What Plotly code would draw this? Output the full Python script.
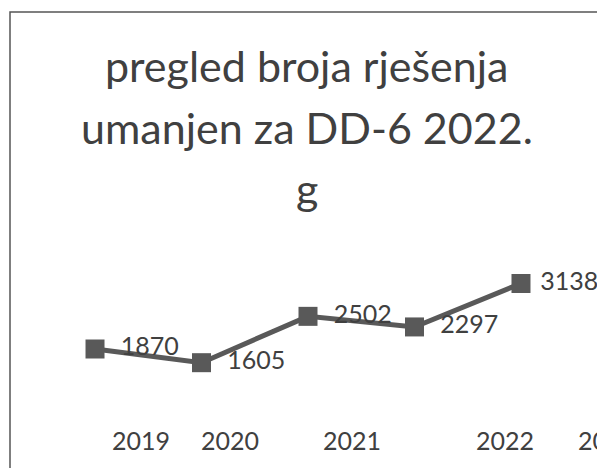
import plotly.graph_objects as go

# ---- data ----
point_x = [0, 1, 2, 3, 4]
values = [1870, 1605, 2502, 2297, 3138]
tick_labels = ["2019", "2020", "2021", "2022", "20"]
tick_pos = [0.432, 1.268, 2.413, 3.85, 4.672]
title_lines = ["pregled broja rješenja", "umanjen za DD-6 2022.", "g"]

W, H = 605, 468
B = 52
plot_h = H - B

label_pad = ["\u00a0\u00a0"] * (len(values) - 1) + ["\u00a0"]

fig = go.Figure()
fig.add_trace(go.Scatter(
    x=point_x, y=values,
    mode="lines+markers+text",
    text=[p + str(v) for p, v in zip(label_pad, values)],
    textposition="middle right",
    textfont=dict(family="Lato", size=25, color="#404040"),
    line=dict(color="#595959", width=5),
    marker=dict(symbol="square", size=19, color="#595959"),
    cliponaxis=False,
    showlegend=False,
    hoverinfo="skip",
))

# title lines, centres in figure pixels
title_centres = [58, 119, 180]
annotations = [
    dict(text=t, xref="paper", yref="paper", x=0.494, y=1 - c / plot_h,
         xanchor="center", yanchor="middle", showarrow=False,
         font=dict(family="Lato", size=43, color="#404040"))
    for t, c in zip(title_lines, title_centres)
]

fig.update_layout(
    width=W, height=H,
    margin=dict(l=0, r=0, t=0, b=B, pad=0, autoexpand=False),
    paper_bgcolor="white", plot_bgcolor="white",
    annotations=annotations,
    xaxis=dict(range=[-0.817, 4.864], tickmode="array", tickvals=tick_pos,
               ticktext=tick_labels, showgrid=False, zeroline=False,
               showline=False, ticks="", automargin=False,
               tickfont=dict(family="Lato", size=25, color="#404040")),
    yaxis=dict(range=[418.1, 8470.8], visible=False, automargin=False),
    shapes=[
        dict(type="rect", xref="paper", yref="paper",
             x0=593.5 / W, x1=1.0, y0=-B / plot_h, y1=1,
             fillcolor="white", line=dict(width=0), layer="above"),
        dict(type="path", xref="paper", yref="paper",
             path=f"M {2/W},{-B/plot_h} L {2/W},{1-4/plot_h} L {592.5/W},{1-4/plot_h} L {592.5/W},{-B/plot_h}",
             line=dict(color="#555555", width=1.5), layer="above"),
    ],
)

fig.write_html("out.html")
